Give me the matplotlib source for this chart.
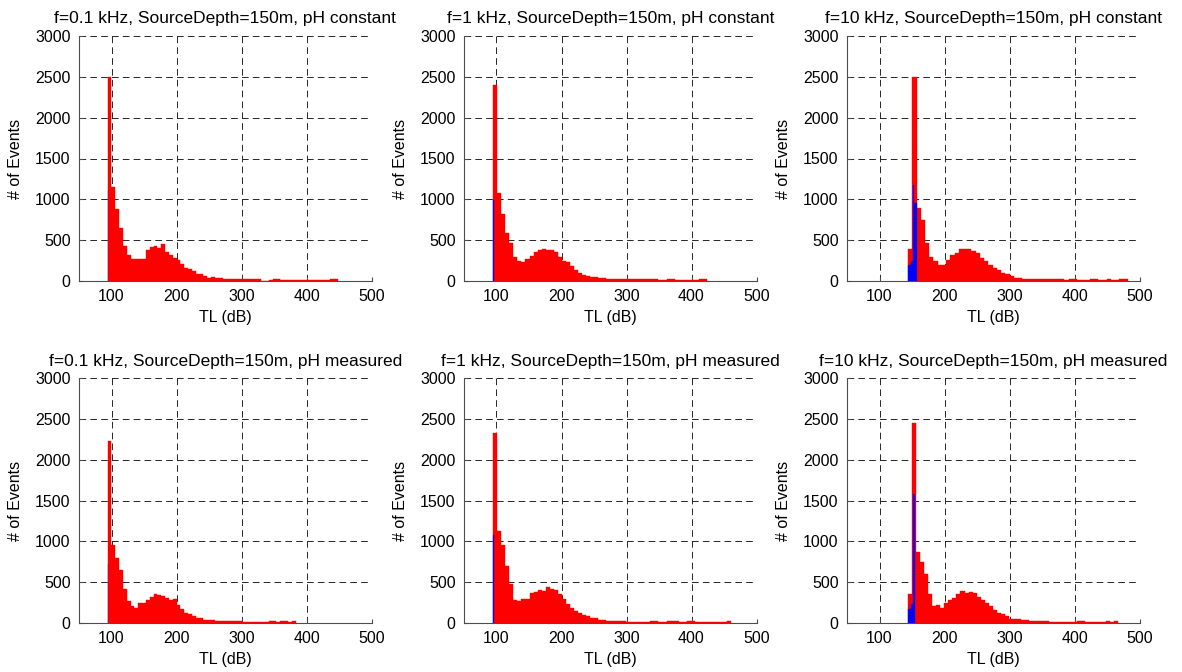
import numpy as np
import matplotlib
matplotlib.use('Agg')
import matplotlib.pyplot as plt

plt.rcParams['font.family'] = ['Liberation Sans', 'DejaVu Sans']
plt.rcParams['lines.scale_dashes'] = False

titles = [
    'f=0.1 kHz, SourceDepth=150m, pH constant',
    'f=1 kHz, SourceDepth=150m, pH constant',
    'f=10 kHz, SourceDepth=150m, pH constant',
    'f=0.1 kHz, SourceDepth=150m, pH measured',
    'f=1 kHz, SourceDepth=150m, pH measured',
    'f=10 kHz, SourceDepth=150m, pH measured',
]

# histogram bins: first edge (dB), bin width (dB), counts per bin
red_start = [94, 95, 144, 94, 95, 144]
red_width = [5.9, 6.2, 6.5, 5.9, 6.2, 6.2]

red_01_const = [2500, 1148, 877, 652, 426, 324, 275, 275, 275, 275, 377, 418, 426, 398, 447,
                353, 324, 283, 258, 205, 164, 152, 123, 82, 82, 57, 35, 52, 37, 37, 20, 20, 20,
                25, 25, 28, 28, 28, 28, 20, 5, 5, 15, 28, 28, 16, 16, 16, 16, 16, 16,
                8, 8, 8, 8, 8, 8, 8, 28, 20]
red_1_const = [2394, 1078, 820, 590, 467, 300, 242, 230, 270, 303, 353, 380, 394, 385, 385,
               353, 295, 250, 234, 189, 140, 98, 78, 57, 49, 49, 33, 33, 20, 20, 20,
               25, 25, 28, 28, 28, 28, 28, 28, 28, 28, 8, 8, 28, 28, 8, 8, 8, 8, 8, 8, 28, 28]
red_10_const = [388, 2500, 888, 752, 470, 300, 240, 200, 190, 260, 320, 348, 388, 388, 388,
                372, 340, 280, 248, 200, 160, 132, 100, 80, 60, 36, 36,
                28, 28, 28, 28, 28, 20, 20, 20, 20, 20, 8, 28, 28, 8, 8, 8, 28, 28, 8, 8, 28,
                8, 8, 28, 28]
red_01_meas = [2230, 960, 798, 643, 420, 269, 208, 187, 240, 240, 277, 317, 358, 342, 330,
               301, 277, 289, 220, 167, 126, 106, 85, 65, 65, 37, 37, 37, 20, 20, 20, 20, 20,
               28, 28, 16, 16, 16, 16, 16, 16, 16, 28, 20, 8, 28, 20, 8, 28]
red_1_meas = [2324, 1123, 960, 696, 480, 281, 269, 289, 289, 362, 383, 403, 391, 440, 419,
              399, 358, 289, 228, 187, 147, 126, 98, 85, 57, 57, 41, 41, 28, 28, 28,
              28, 28, 16, 16, 16, 16, 16, 16, 20, 20, 8, 8, 28, 28, 28, 16, 16, 28, 28,
              8, 8, 8, 8, 8, 8, 8, 8, 28]
red_10_meas = [358, 2446, 867, 745, 594, 360, 208, 220, 187, 240, 281, 309, 350, 391, 370,
               383, 370, 317, 277, 248, 208, 155, 126, 106, 85, 45, 45, 45, 33, 33, 20,
               20, 20, 20, 20, 16, 16, 16, 16, 16, 8, 8, 28, 28, 8, 8, 8, 8, 8, 20, 8, 28]
red_counts = [red_01_const, red_1_const, red_10_const, red_01_meas, red_1_meas, red_10_meas]

blue_start = [94, 95, 144, 94, 95, 144]
blue_width = [1.2, 1.1, 1.3, 1.2, 1.1, 1.3]
blue_counts = [
    [1110],
    [992],
    [190, 190, 195, 210, 228, 240, 1180, 950, 950, 950],
    [724],
    [1083],
    [170, 170, 170, 170, 230, 230, 1580, 1580],
]

fig = plt.figure(figsize=(11.82, 6.72), dpi=100)
W, H = 1182.0, 672.0
lefts = [79, 464, 847]
tops = [36, 378]
aw, ah = 292.5, 245

for i in range(6):
    r, c = divmod(i, 3)
    ax = fig.add_axes([lefts[c] / W, 1 - (tops[r] + ah) / H, aw / W, ah / H])
    ax.set_axisbelow(True)

    rc = np.array(red_counts[i], dtype=float)
    rx = red_start[i] + red_width[i] * np.arange(len(rc))
    ax.bar(rx, rc, width=red_width[i], align='edge', color='#ff0000',
           edgecolor='#ff0000', linewidth=0.3)

    bc = np.array(blue_counts[i], dtype=float)
    bx = blue_start[i] + blue_width[i] * np.arange(len(bc))
    ax.bar(bx, bc, width=blue_width[i], align='edge', color='#0000ff',
           edgecolor='#0000ff', linewidth=0.2)

    ax.set_xlim(50, 500)
    ax.set_ylim(0, 3000)
    ax.set_xticks([100, 200, 300, 400, 500])
    ax.set_yticks(np.arange(0, 3001, 500))
    ax.grid(True, color='0.15', linestyle=(0, (4.8, 3.0)), linewidth=0.7)

    for s in ['top', 'right']:
        ax.spines[s].set_visible(False)
    for s in ['left', 'bottom']:
        ax.spines[s].set_color('0.3')
        ax.spines[s].set_linewidth(0.8)
    ax.tick_params(direction='in', length=3, color='0.3', labelsize=11.5, pad=6)

    ax.set_title(titles[i], fontsize=12.5, pad=9)
    ax.set_xlabel('TL (dB)', fontsize=11.5, labelpad=4)
    ax.set_ylabel('# of Events', fontsize=11.5, labelpad=9)

fig.savefig('out.png', dpi=100)
